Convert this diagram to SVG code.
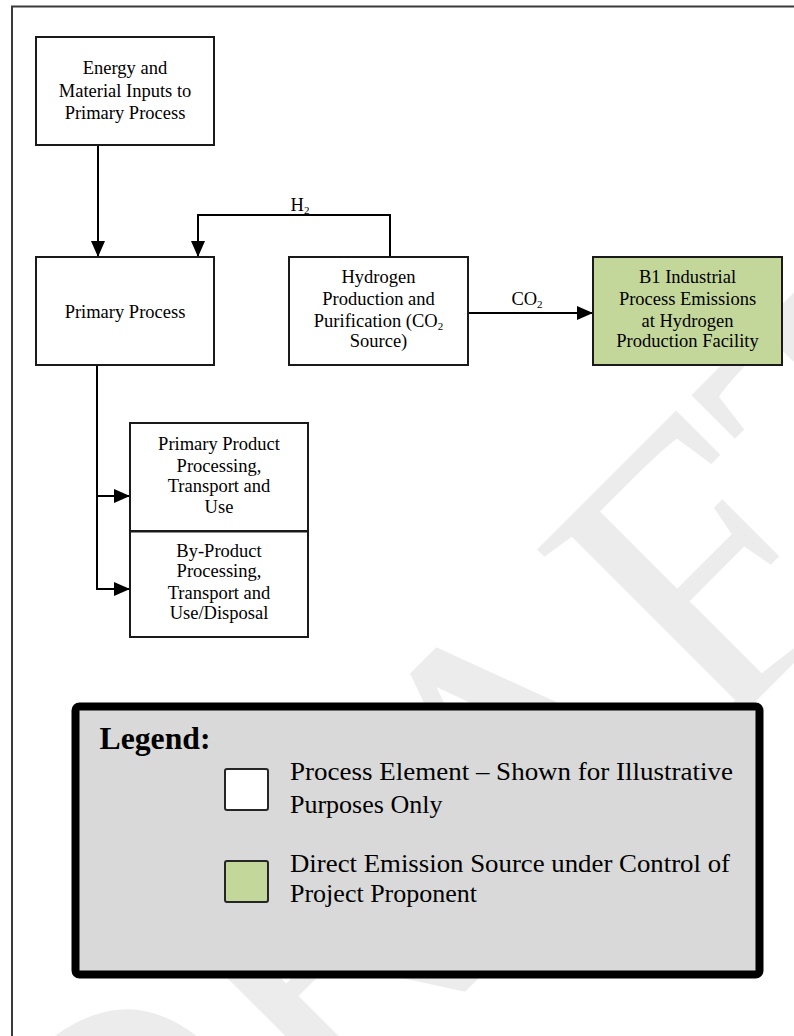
<svg xmlns="http://www.w3.org/2000/svg" width="794" height="1036" viewBox="0 0 794 1036">
<defs>
<style>
.box{fill:#fff;stroke:#1a1a1a;stroke-width:2}
.green{fill:#c4d79b;stroke:#1a1a1a;stroke-width:2}
.t{font-family:"Liberation Serif","Times New Roman",serif;font-size:18.5px;fill:#000;text-anchor:middle}
.lt{font-family:"Liberation Serif","Times New Roman",serif;font-size:26px;fill:#000}
.con{fill:none;stroke:#000;stroke-width:2}
.wm{font-family:"Liberation Serif","Times New Roman",serif;font-size:400px;fill:#ececec}
</style>
<marker id="ah" viewBox="0 0 16 14" refX="16" refY="7" markerWidth="16" markerHeight="14" markerUnits="userSpaceOnUse" orient="auto">
<path d="M0,0 L16,7 L0,14 Z" fill="#000"/>
</marker>
</defs>
<rect width="794" height="1036" fill="#fff"/>
<g id="watermark">
<text class="wm" transform="translate(117,1340) rotate(-45)">DRAFT</text>
</g>
<path d="M12,1036 V6.5 H794" fill="none" stroke="#3a3a3a" stroke-width="2"/>
<g id="connectors">
<path class="con" d="M98,145 V257" marker-end="url(#ah)"/>
<path class="con" d="M390,257 V215 H198 V257" marker-end="url(#ah)"/>
<path class="con" d="M468,313 H593" marker-end="url(#ah)"/>
<path class="con" d="M97,365 V589 H130" marker-end="url(#ah)"/>
<path class="con" d="M97,496 H130" marker-end="url(#ah)"/>
<text class="t" x="300" y="210.5">H<tspan font-size="11" dy="3">2</tspan></text>
<text class="t" x="527" y="305">CO<tspan font-size="11" dy="3">2</tspan></text>
</g>
<g id="energy-inputs">
<rect class="box" x="36" y="37" width="178" height="108"/>
<text class="t" x="125" y="74">Energy and</text>
<text class="t" x="125" y="96.7">Material Inputs to</text>
<text class="t" x="125" y="119.3">Primary Process</text>
</g>
<g id="primary-process">
<rect class="box" x="36" y="257" width="178" height="108"/>
<text class="t" x="125" y="318">Primary Process</text>
</g>
<g id="hydrogen-production">
<rect class="box" x="289" y="257" width="179" height="108"/>
<text class="t" x="378.5" y="283.3">Hydrogen</text>
<text class="t" x="378.5" y="305">Production and</text>
<text class="t" x="378.5" y="326.7">Purification (CO<tspan font-size="11" dy="3">2</tspan></text>
<text class="t" x="378.5" y="347">Source)</text>
</g>
<g id="b1-emissions">
<rect class="green" x="593" y="257" width="189" height="108"/>
<text class="t" x="687.5" y="283.3">B1 Industrial</text>
<text class="t" x="687.5" y="305">Process Emissions</text>
<text class="t" x="687.5" y="326.7">at Hydrogen</text>
<text class="t" x="687.5" y="347">Production Facility</text>
</g>
<g id="primary-product">
<rect class="box" x="130" y="423" width="178" height="108"/>
<text class="t" x="219" y="450">Primary Product</text>
<text class="t" x="219" y="471.7">Processing,</text>
<text class="t" x="219" y="491.7">Transport and</text>
<text class="t" x="219" y="513.3">Use</text>
</g>
<g id="by-product">
<rect class="box" x="130" y="531.5" width="178" height="105.5"/>
<text class="t" x="219" y="556.7">By-Product</text>
<text class="t" x="219" y="577">Processing,</text>
<text class="t" x="219" y="599.3">Transport and</text>
<text class="t" x="219" y="619.3">Use/Disposal</text>
</g>
<g id="legend">
<rect x="75.5" y="706.5" width="684" height="268" rx="4" fill="#d9d9d9" stroke="#000" stroke-width="8"/>
<text x="99.5" y="749" font-family="'Liberation Serif','Times New Roman',serif" font-size="31" font-weight="bold" fill="#000" textLength="111" lengthAdjust="spacingAndGlyphs">Legend:</text>
<rect x="225" y="769" width="43" height="41" rx="2" fill="#fff" stroke="#262626" stroke-width="2"/>
<text class="lt" x="290" y="780" textLength="443" lengthAdjust="spacingAndGlyphs">Process Element – Shown for Illustrative</text>
<text class="lt" x="290" y="812.5">Purposes Only</text>
<rect x="225" y="861" width="43" height="41" rx="2" fill="#c4d79b" stroke="#262626" stroke-width="2"/>
<text class="lt" x="290" y="871.7" textLength="440" lengthAdjust="spacingAndGlyphs">Direct Emission Source under Control of</text>
<text class="lt" x="290" y="901.7">Project Proponent</text>
</g>
</svg>
